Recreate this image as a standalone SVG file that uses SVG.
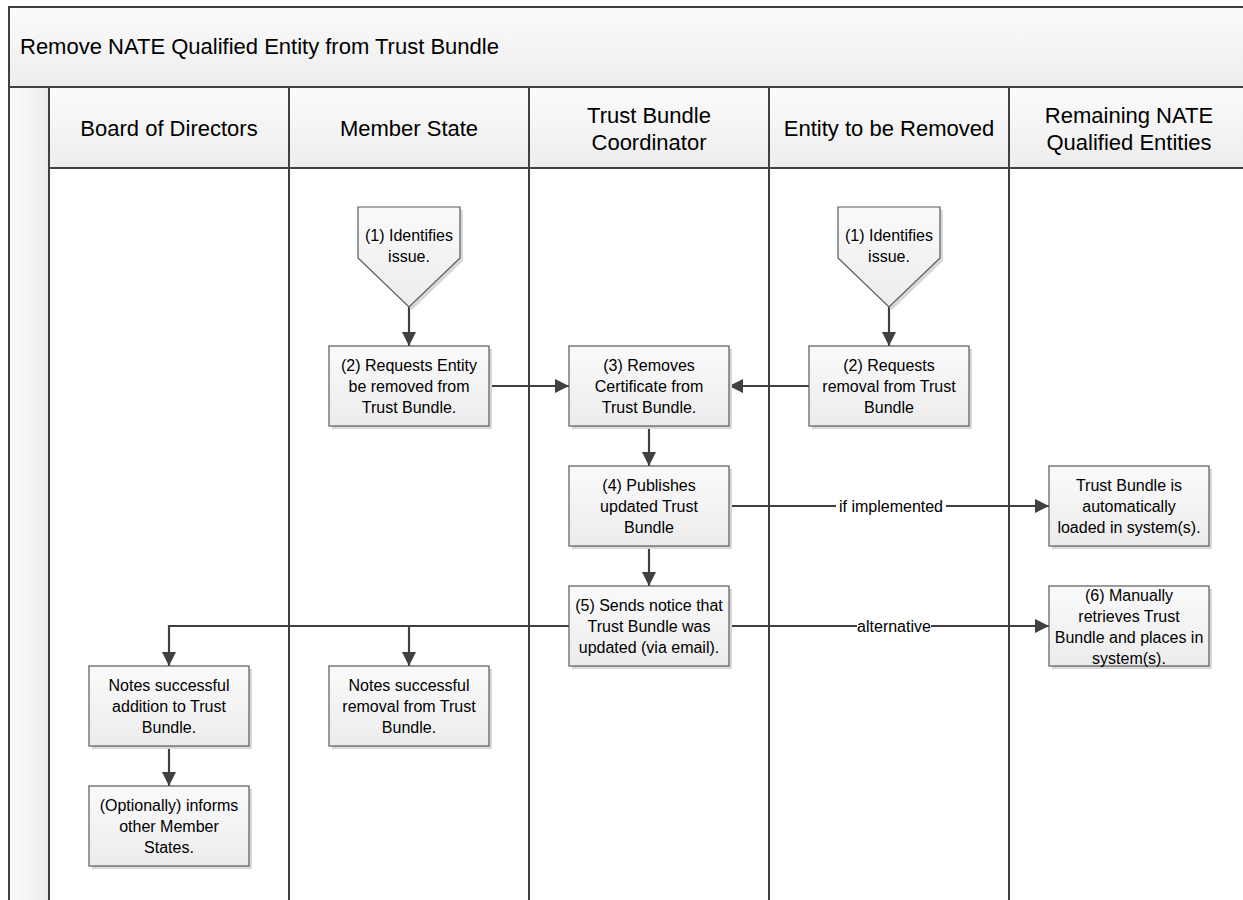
<svg xmlns="http://www.w3.org/2000/svg" width="1243" height="900" viewBox="0 0 1243 900">
<style>
.t{font-family:"Liberation Sans",Arial,sans-serif;fill:#000;text-anchor:middle}
.hd{font-size:22px}
.nt{font-size:16px}
.box{fill:url(#gb);stroke:#5a5a5a;stroke-width:1.2}
.sh{fill:#d8d8d8}
.ln{stroke:#404040;stroke-width:2.2;fill:none}
.lane{stroke:#404040;stroke-width:2;fill:none}
.lbl{font-size:16px}
</style>
<defs>
<linearGradient id="gb" x1="0" y1="0" x2="0" y2="1"><stop offset="0" stop-color="#fafafa"/><stop offset="1" stop-color="#ececec"/></linearGradient>
<linearGradient id="gh" x1="0" y1="0" x2="0" y2="1"><stop offset="0" stop-color="#fbfbfb"/><stop offset="1" stop-color="#ededed"/></linearGradient>
<linearGradient id="gl" x1="0" y1="0" x2="1" y2="0"><stop offset="0" stop-color="#fbfbfb"/><stop offset="1" stop-color="#ececec"/></linearGradient>
<marker id="ah" markerWidth="14" markerHeight="14" viewBox="0 0 14 14" refX="14" refY="7" orient="auto" markerUnits="userSpaceOnUse"><path d="M0,0 L14,7 L0,14 z" fill="#404040"/></marker>
</defs>
<rect width="1243" height="900" fill="#fff"/>
<g id="pool">
<rect x="9" y="7" width="1240" height="80" fill="url(#gh)" stroke="#404040" stroke-width="2"/>
<text class="t" x="20" y="54" style="text-anchor:start;font-size:22px">Remove NATE Qualified Entity from Trust Bundle</text>
<rect x="9" y="87" width="40" height="820" fill="url(#gl)" stroke="#404040" stroke-width="2"/>
<rect x="49" y="87" width="1200" height="81" fill="url(#gh)" stroke="#404040" stroke-width="2"/>
<line class="lane" x1="289" y1="87" x2="289" y2="900"/>
<line class="lane" x1="529" y1="87" x2="529" y2="900"/>
<line class="lane" x1="769" y1="87" x2="769" y2="900"/>
<line class="lane" x1="1009" y1="87" x2="1009" y2="900"/>
<line class="lane" x1="49" y1="87" x2="49" y2="900"/>
<text class="t hd" x="169" y="136">Board of Directors</text>
<text class="t hd" x="409" y="136">Member State</text>
<text class="t hd" x="649" y="123">Trust Bundle</text>
<text class="t hd" x="649" y="150">Coordinator</text>
<text class="t hd" x="889" y="136">Entity to be Removed</text>
<text class="t hd" x="1129" y="123">Remaining NATE</text>
<text class="t hd" x="1129" y="150">Qualified Entities</text>
</g>
<g id="connectors">
<line class="ln" x1="409" y1="307" x2="409" y2="346" marker-end="url(#ah)"/>
<line class="ln" x1="889" y1="307" x2="889" y2="346" marker-end="url(#ah)"/>
<line class="ln" x1="489" y1="386" x2="569" y2="386" marker-end="url(#ah)"/>
<line class="ln" x1="809" y1="386" x2="729" y2="386" marker-end="url(#ah)"/>
<line class="ln" x1="649" y1="426" x2="649" y2="466" marker-end="url(#ah)"/>
<line class="ln" x1="649" y1="546" x2="649" y2="586" marker-end="url(#ah)"/>
<line class="ln" x1="729" y1="506" x2="1049" y2="506" marker-end="url(#ah)"/>
<line class="ln" x1="729" y1="626" x2="1049" y2="626" marker-end="url(#ah)"/>
<polyline class="ln" points="569,626 169,626 169,666" marker-end="url(#ah)"/>
<line class="ln" x1="409" y1="626" x2="409" y2="666" marker-end="url(#ah)"/>
<line class="ln" x1="169" y1="746" x2="169" y2="786" marker-end="url(#ah)"/>
<rect x="836" y="496" width="110" height="20" fill="#fff"/>
<text class="t lbl" x="891" y="512">if implemented</text>
<rect x="857" y="616" width="74" height="20" fill="#fff"/>
<text class="t lbl" x="894" y="632">alternative</text>
</g>
<g id="n1a">
<polygon class="sh" points="361,210 463,210 463,261 412,310 361,261"/>
<polygon class="box" points="358,207 460,207 460,258 409,307 358,258"/>
<text class="t nt" x="409" y="241">(1) Identifies</text>
<text class="t nt" x="409" y="262">issue.</text>
</g>
<g id="n1b">
<polygon class="sh" points="841,210 943,210 943,261 892,310 841,261"/>
<polygon class="box" points="838,207 940,207 940,258 889,307 838,258"/>
<text class="t nt" x="889" y="241">(1) Identifies</text>
<text class="t nt" x="889" y="262">issue.</text>
</g>
<g id="n2a">
<rect class="sh" x="332" y="349" width="160" height="80"/>
<rect class="box" x="329" y="346" width="160" height="80"/>
<text class="t nt" x="409" y="371">(2) Requests Entity</text>
<text class="t nt" x="409" y="392">be removed from</text>
<text class="t nt" x="409" y="413">Trust Bundle.</text>
</g>
<g id="n3">
<rect class="sh" x="572" y="349" width="160" height="80"/>
<rect class="box" x="569" y="346" width="160" height="80"/>
<text class="t nt" x="649" y="371">(3) Removes</text>
<text class="t nt" x="649" y="392">Certificate from</text>
<text class="t nt" x="649" y="413">Trust Bundle.</text>
</g>
<g id="n2b">
<rect class="sh" x="812" y="349" width="160" height="80"/>
<rect class="box" x="809" y="346" width="160" height="80"/>
<text class="t nt" x="889" y="371">(2) Requests</text>
<text class="t nt" x="889" y="392">removal from Trust</text>
<text class="t nt" x="889" y="413">Bundle</text>
</g>
<g id="n4">
<rect class="sh" x="572" y="469" width="160" height="80"/>
<rect class="box" x="569" y="466" width="160" height="80"/>
<text class="t nt" x="649" y="491">(4) Publishes</text>
<text class="t nt" x="649" y="512">updated Trust</text>
<text class="t nt" x="649" y="533">Bundle</text>
</g>
<g id="nauto">
<rect class="sh" x="1052" y="469" width="160" height="80"/>
<rect class="box" x="1049" y="466" width="160" height="80"/>
<text class="t nt" x="1129" y="491">Trust Bundle is</text>
<text class="t nt" x="1129" y="512">automatically</text>
<text class="t nt" x="1129" y="533">loaded in system(s).</text>
</g>
<g id="n5">
<rect class="sh" x="572" y="589" width="160" height="80"/>
<rect class="box" x="569" y="586" width="160" height="80"/>
<text class="t nt" x="649" y="611">(5) Sends notice that</text>
<text class="t nt" x="649" y="632">Trust Bundle was</text>
<text class="t nt" x="649" y="653">updated (via email).</text>
</g>
<g id="n6">
<rect class="sh" x="1052" y="589" width="160" height="80"/>
<rect class="box" x="1049" y="586" width="160" height="80"/>
<text class="t nt" x="1129" y="601">(6) Manually</text>
<text class="t nt" x="1129" y="622">retrieves Trust</text>
<text class="t nt" x="1129" y="643">Bundle and places in</text>
<text class="t nt" x="1129" y="664">system(s).</text>
</g>
<g id="nadd">
<rect class="sh" x="92" y="669" width="160" height="80"/>
<rect class="box" x="89" y="666" width="160" height="80"/>
<text class="t nt" x="169" y="691">Notes successful</text>
<text class="t nt" x="169" y="712">addition to Trust</text>
<text class="t nt" x="169" y="733">Bundle.</text>
</g>
<g id="nrem">
<rect class="sh" x="332" y="669" width="160" height="80"/>
<rect class="box" x="329" y="666" width="160" height="80"/>
<text class="t nt" x="409" y="691">Notes successful</text>
<text class="t nt" x="409" y="712">removal from Trust</text>
<text class="t nt" x="409" y="733">Bundle.</text>
</g>
<g id="nopt">
<rect class="sh" x="92" y="789" width="160" height="80"/>
<rect class="box" x="89" y="786" width="160" height="80"/>
<text class="t nt" x="169" y="811">(Optionally) informs</text>
<text class="t nt" x="169" y="832">other Member</text>
<text class="t nt" x="169" y="853">States.</text>
</g>
</svg>
